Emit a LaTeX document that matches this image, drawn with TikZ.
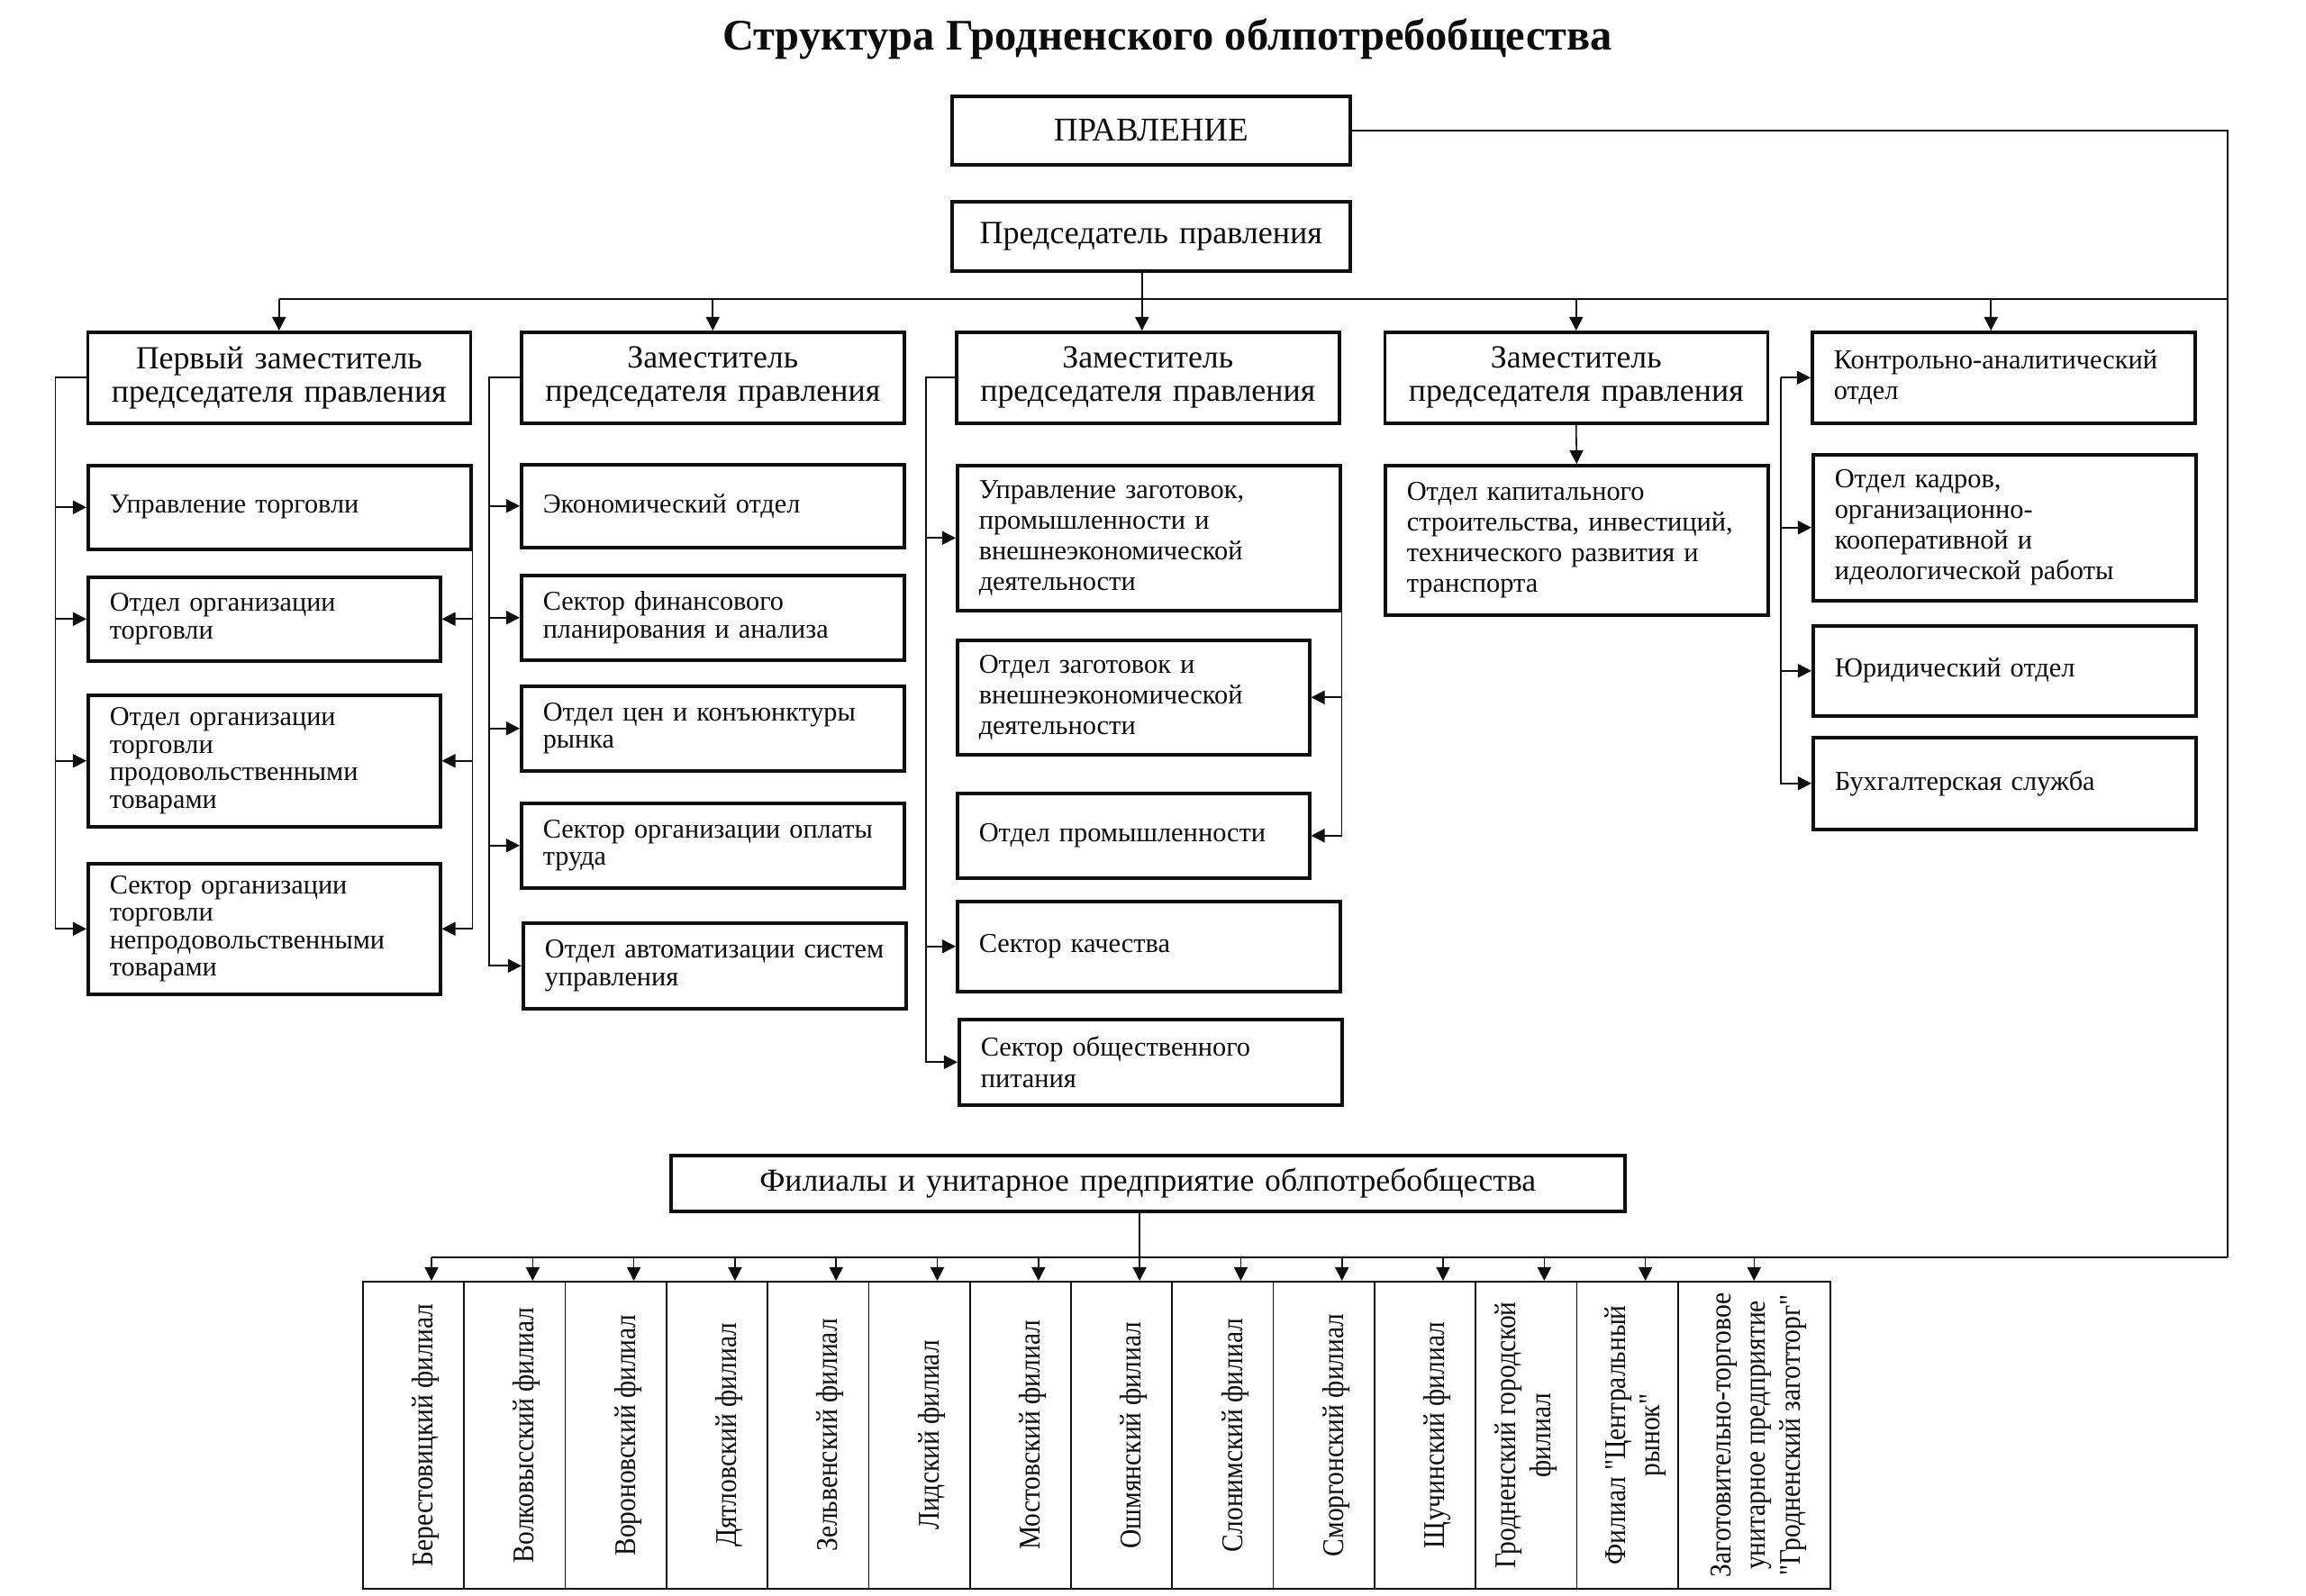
\documentclass[tikz,border=0pt]{standalone}
\usepackage{fontspec}
\setmainfont{Liberation Serif}
\usepackage{xcolor}
\definecolor{textcolor}{RGB}{12,12,12}
\definecolor{linecolor}{RGB}{15,15,15}
\usepackage{graphicx}
\usepackage{tikz}
\usetikzlibrary{arrows.meta}

\newcommand{\vtext}[2][0cm]{\hspace*{#1}\rotatebox{90}{\scalebox{1}[1.13]{\begin{tabular}{@{}c@{}}#2\end{tabular}}}}

\begin{document}
\begin{tikzpicture}[x=1cm, y=-1cm, every node/.style={color=textcolor},
  box/.style={draw=linecolor, line width=1pt, inner sep=0pt, anchor=north west},
  head/.style={box, align=center, text width=#1},
  unit/.style={box, align=left, inner xsep=0.24cm, text width=3.77cm, minimum height=#1,
    font=\fontsize{8.6}{8.7}\selectfont},
  unitn/.style={unit=#1, text width=3.43cm},
  roomy/.style={font=\fontsize{8.65}{9.7}\selectfont},
  branch/.style={draw=linecolor, line width=0.5pt, inner sep=0pt, anchor=north west,
    minimum width=1.123cm, minimum height=3.41cm, font=\fontsize{8.4}{9.6}\selectfont},
  conn/.style={draw=linecolor, line width=0.45pt},
  arr/.style={conn, -{Triangle[length=4.3pt, width=4.3pt]}}]
  \useasboundingbox (0,0) rectangle (25.6,17.71);

  \node[anchor=base, font=\fontsize{13.8}{16}\selectfont\bfseries] (title) at (12.96,0.55) {Структура Гродненского облпотребобщества};

  \node[head=4.42cm, minimum height=0.76cm, font=\fontsize{10.5}{12}\selectfont] (prav) at (10.55,1.05) {ПРАВЛЕНИЕ};
  \node[head=4.42cm, minimum height=0.77cm, font=\fontsize{10.25}{12}\selectfont] (pred) at (10.55,2.22) {Председатель правления\\[0.3cm]};

  \node[head=4.25cm, minimum height=1.01cm, font=\fontsize{10.2}{10.6}\selectfont] (dep1) at (0.955,3.67) {Первый заместитель\\председателя правления};
  \node[head=4.25cm, minimum height=1.01cm, font=\fontsize{10.2}{10.6}\selectfont] (dep2) at (5.77,3.67) {Заместитель\\председателя правления};
  \node[head=4.25cm, minimum height=1.01cm, font=\fontsize{10.2}{10.6}\selectfont] (dep3) at (10.60,3.67) {Заместитель\\председателя правления};
  \node[head=4.25cm, minimum height=1.01cm, font=\fontsize{10.2}{10.6}\selectfont] (dep4) at (15.355,3.67) {Заместитель\\председателя правления};
  \node[unit=1.01cm, roomy] (ctrl) at (20.10,3.67) {Контрольно-аналитический\\отдел\\[0.25cm]};

  \node[unit=0.93cm] (ut) at (0.96,5.15) {Управление торговли};
  \node[unitn=0.93cm] (oot) at (0.96,6.39) {Отдел организации\\торговли};
  \node[unitn=1.46cm] (oop) at (0.96,7.70) {Отдел организации\\торговли\\продовольственными\\товарами};
  \node[unitn=1.45cm] (son) at (0.96,9.57) {Сектор организации\\торговли\\непродовольственными\\товарами};

  \node[unit=0.92cm] (eco) at (5.77,5.14) {Экономический отдел};
  \node[unit=0.94cm] (sfp) at (5.77,6.37) {Сектор финансового\\планирования и анализа};
  \node[unit=0.94cm] (ock) at (5.77,7.60) {Отдел цен и конъюнктуры\\рынка};
  \node[unit=0.94cm] (soo) at (5.77,8.90) {Сектор организации оплаты\\труда};
  \node[unit=0.95cm] (oas) at (5.79,10.23) {Отдел автоматизации систем\\управления};

  \node[unit=1.61cm, roomy] (uz) at (10.61,5.15) {Управление заготовок,\\промышленности и\\внешнеэкономической\\деятельности};
  \node[unitn=1.27cm, roomy] (oz) at (10.61,7.09) {Отдел заготовок и\\внешнеэкономической\\деятельности};
  \node[unitn=0.94cm, roomy] (op) at (10.61,8.79) {Отдел промышленности};
  \node[unit=1.00cm, roomy] (sk) at (10.61,9.99) {Сектор качества};
  \node[unit=0.95cm, roomy] (sop) at (10.63,11.30) {Сектор общественного\\питания};

  \node[unit=1.66cm, roomy] (okc) at (15.36,5.15) {Отдел капитального\\строительства, инвестиций,\\технического развития и\\транспорта};

  \node[unit=1.62cm, roomy] (okd) at (20.11,5.03) {Отдел кадров,\\организационно-\\кооперативной и\\идеологической работы};
  \node[unit=1.00cm, roomy] (yur) at (20.11,6.93) {Юридический отдел};
  \node[unit=1.02cm, roomy] (bux) at (20.11,8.17) {Бухгалтерская служба};

  \node[head=10.59cm, minimum height=0.62cm, font=\fontsize{10.15}{12}\selectfont] (fil) at (7.43,12.81) {Филиалы и унитарное предприятие облпотребобщества};

  \node[branch] (b1) at (4.020,14.22) {\vtext[0.28cm]{Берестовицкий филиал}};
  \node[branch] (b2) at (5.143,14.22) {\vtext[0.28cm]{Волковысский филиал}};
  \node[branch] (b3) at (6.266,14.22) {\vtext[0.28cm]{Вороновский филиал}};
  \node[branch] (b4) at (7.389,14.22) {\vtext[0.28cm]{Дятловский филиал}};
  \node[branch] (b5) at (8.512,14.22) {\vtext[0.28cm]{Зельвенский филиал}};
  \node[branch] (b6) at (9.635,14.22) {\vtext[0.28cm]{Лидский филиал}};
  \node[branch] (b7) at (10.758,14.22) {\vtext[0.28cm]{Мостовский филиал}};
  \node[branch] (b8) at (11.881,14.22) {\vtext[0.28cm]{Ошмянский филиал}};
  \node[branch] (b9) at (13.004,14.22) {\vtext[0.28cm]{Слонимский филиал}};
  \node[branch] (b10) at (14.127,14.22) {\vtext[0.28cm]{Сморгонский филиал}};
  \node[branch] (b11) at (15.250,14.22) {\vtext[0.28cm]{Щучинский филиал}};
  \node[branch] (b12) at (16.373,14.22) {\vtext{Гродненский городской\\филиал}};
  \node[branch] (b13) at (17.496,14.22) {\vtext[0.18cm]{Филиал \textquotedbl Центральный\\рынок\textquotedbl}};
  \node[branch, minimum width=1.69cm] (b14) at (18.619,14.22) {\vtext[0.1cm]{Заготовительно-торговое\\унитарное предприятие\\\textquotedbl Гродненский заготторг\textquotedbl}};

  \coordinate (bus) at (24.73,3.32);
  \coordinate (fbus) at (24.73,13.96);

  \draw[conn] (prav.east) -| (fbus);
  \draw[conn] (dep1.north |- bus) -- (bus);
  \draw[arr] ([xshift=-1mm]pred.south) -- ([xshift=-1mm]pred.south |- dep3.north);
  \draw[arr] (dep1.north |- bus) -- (dep1.north);
  \draw[arr] (dep2.north |- bus) -- (dep2.north);
  \draw[arr] (dep4.north |- bus) -- (dep4.north);
  \draw[arr] ([xshift=-1.4mm]ctrl.north |- bus) -- ([xshift=-1.4mm]ctrl.north);

  \draw[arr] (dep1.west) -- ++(-0.34,0) |- (son.west);
  \draw[arr] ([xshift=-3.4mm]ut.west) -- (ut.west);
  \draw[arr] ([xshift=-3.4mm]oot.west) -- (oot.west);
  \draw[arr] ([xshift=-3.4mm]oop.west) -- (oop.west);
  \draw[arr] (ut.south east) |- (son.east);
  \draw[arr] (ut.south east |- oot.east) -- (oot.east);
  \draw[arr] (ut.south east |- oop.east) -- (oop.east);

  \draw[arr] (dep2.west) -- ++(-0.34,0) |- (oas.west);
  \draw[arr] ([xshift=-3.4mm]eco.west) -- (eco.west);
  \draw[arr] ([xshift=-3.4mm]sfp.west) -- (sfp.west);
  \draw[arr] ([xshift=-3.4mm]ock.west) -- (ock.west);
  \draw[arr] ([xshift=-3.4mm]soo.west) -- (soo.west);

  \draw[arr] (dep3.west) -- ++(-0.32,0) |- (sop.west);
  \draw[arr] ([xshift=-3.3mm]uz.west) -- (uz.west);
  \draw[arr] ([xshift=-3.3mm]sk.west) -- (sk.west);
  \draw[arr] (uz.south east) |- (op.east);
  \draw[arr] (uz.south east |- oz.east) -- (oz.east);

  \draw[arr] (dep4.south) -- (okc.north);

  \draw[arr] ([xshift=-3.3mm]ctrl.west) |- (bux.west);
  \draw[arr] ([xshift=-3.3mm]ctrl.west) -- (ctrl.west);
  \draw[arr] ([xshift=-3.3mm]okd.west) -- (okd.west);
  \draw[arr] ([xshift=-3.3mm]yur.west) -- (yur.west);

  \draw[conn] (fbus) -- ([xshift=2mm]b1.north |- fbus);
  \draw[arr] ([xshift=2mm]b8.north |- fil.south) -- ([xshift=2mm]b8.north);
  \draw[arr] ([xshift=2mm]b1.north |- fbus) -- ([xshift=2mm]b1.north);
  \draw[arr] ([xshift=2mm]b2.north |- fbus) -- ([xshift=2mm]b2.north);
  \draw[arr] ([xshift=2mm]b3.north |- fbus) -- ([xshift=2mm]b3.north);
  \draw[arr] ([xshift=2mm]b4.north |- fbus) -- ([xshift=2mm]b4.north);
  \draw[arr] ([xshift=2mm]b5.north |- fbus) -- ([xshift=2mm]b5.north);
  \draw[arr] ([xshift=2mm]b6.north |- fbus) -- ([xshift=2mm]b6.north);
  \draw[arr] ([xshift=2mm]b7.north |- fbus) -- ([xshift=2mm]b7.north);
  \draw[arr] ([xshift=2mm]b9.north |- fbus) -- ([xshift=2mm]b9.north);
  \draw[arr] ([xshift=2mm]b10.north |- fbus) -- ([xshift=2mm]b10.north);
  \draw[arr] ([xshift=2mm]b11.north |- fbus) -- ([xshift=2mm]b11.north);
  \draw[arr] ([xshift=2mm]b12.north |- fbus) -- ([xshift=2mm]b12.north);
  \draw[arr] ([xshift=2mm]b13.north |- fbus) -- ([xshift=2mm]b13.north);
  \draw[arr] (b14.north |- fbus) -- (b14.north);
\end{tikzpicture}
\end{document}
